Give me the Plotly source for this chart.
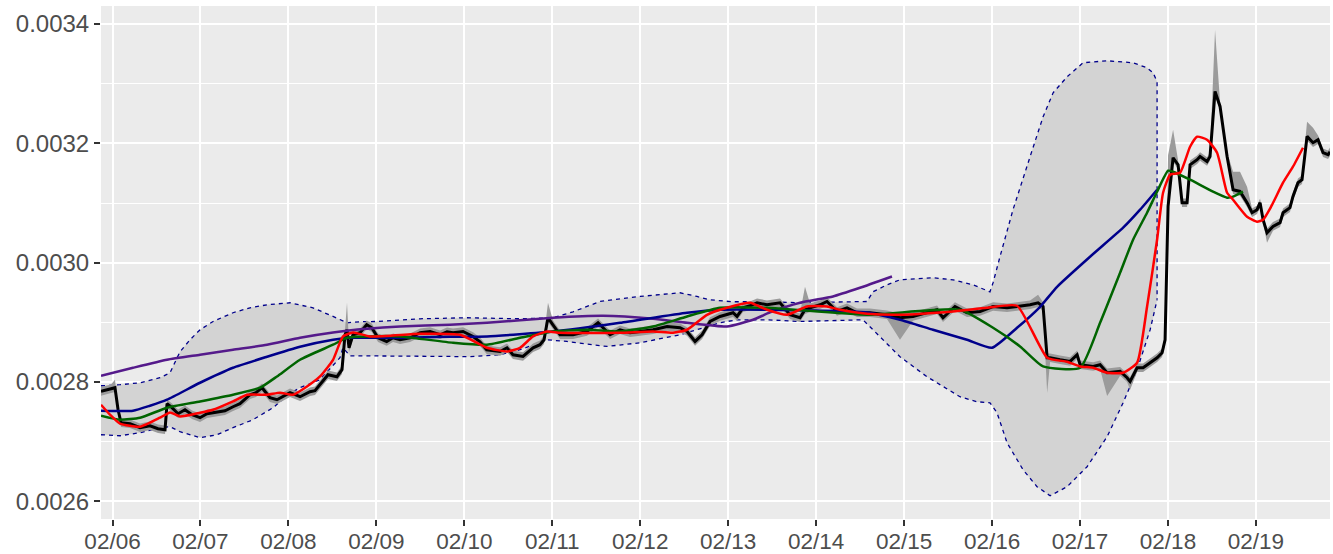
import pandas as pd
import plotly.graph_objects as go

BASE = pd.Timestamp("2024-02-01")

def to_time(days):
    return [BASE + pd.Timedelta(days=d - 1) for d in days]

# ---- price series (black line), day-of-February with fraction ----
price_days = [5.869, 5.926, 5.983, 6.028, 6.063, 6.097, 6.199, 6.313, 6.426, 6.517,
              6.597, 6.620, 6.676, 6.745, 6.824, 6.904, 6.995, 7.074, 7.165, 7.279,
              7.370, 7.449, 7.563, 7.631, 7.700, 7.790, 7.870, 7.950, 8.018, 8.132,
              8.245, 8.302, 8.359, 8.450, 8.552, 8.609, 8.643, 8.666, 8.689, 8.734,
              8.814, 8.890, 8.947, 9.019, 9.117, 9.189, 9.269, 9.383, 9.497, 9.610,
              9.724, 9.803, 9.872, 9.985, 10.099, 10.178, 10.254, 10.406, 10.485, 10.553,
              10.667, 10.781, 10.860, 10.906, 10.951, 11.008, 11.088, 11.236, 11.395, 11.520,
              11.600, 11.657, 11.770, 11.884, 11.998, 12.146, 12.305, 12.453, 12.532, 12.623,
              12.703, 12.794, 12.907, 13.055, 13.100, 13.169, 13.248, 13.328, 13.441, 13.589,
              13.703, 13.816, 13.873, 13.930, 14.044, 14.123, 14.237, 14.351, 14.464, 14.612,
              14.805, 14.953, 15.101, 15.260, 15.374, 15.442, 15.578, 15.715, 15.863, 16.011,
              16.170, 16.284, 16.432, 16.523, 16.580, 16.626, 16.660, 16.773, 16.887, 16.967,
              17.001, 17.149, 17.228, 17.308, 17.456, 17.535, 17.569, 17.649, 17.717, 17.797,
              17.876, 17.933, 17.967, 18.001, 18.058, 18.115, 18.160, 18.217, 18.251, 18.331,
              18.365, 18.444, 18.478, 18.535, 18.592, 18.672, 18.740, 18.819, 18.899, 18.956,
              19.013, 19.047, 19.081, 19.126, 19.194, 19.274, 19.308, 19.387, 19.421, 19.478,
              19.524, 19.581, 19.649, 19.706, 19.763, 19.820, 19.842]
price_vals = [0.0027843, 0.0027871, 0.0027888, 0.0027905, 0.0027536, 0.0027318, 0.0027302, 0.0027235, 0.0027268, 0.0027218,
              0.0027201, 0.0027637, 0.0027570, 0.0027469, 0.0027536, 0.0027452, 0.0027402, 0.0027469, 0.0027486, 0.0027519,
              0.0027586, 0.0027637, 0.0027787, 0.0027821, 0.0027905, 0.0027737, 0.0027704, 0.0027771, 0.0027821, 0.0027754,
              0.0027838, 0.0027854, 0.0027955, 0.0028122, 0.0028089, 0.0028206, 0.0028792, 0.0028876, 0.0028574, 0.0028792,
              0.0028826, 0.0028960, 0.0028909, 0.0028742, 0.0028680, 0.0028742, 0.0028708, 0.0028742, 0.0028826, 0.0028847,
              0.0028792, 0.0028842, 0.0028826, 0.0028847, 0.0028764, 0.0028675, 0.0028541, 0.0028512, 0.0028574, 0.0028457,
              0.0028429, 0.0028574, 0.0028625, 0.0028708, 0.0029077, 0.0028960, 0.0028792, 0.0028792, 0.0028847, 0.0028993,
              0.0028876, 0.0028792, 0.0028876, 0.0028826, 0.0028847, 0.0028876, 0.0028931, 0.0028909, 0.0028847, 0.0028680,
              0.0028792, 0.0029015, 0.0029099, 0.0029161, 0.0029099, 0.0029244, 0.0029278, 0.0029328, 0.0029295, 0.0029328,
              0.0029127, 0.0029077, 0.0029211, 0.0029244, 0.0029295, 0.0029350, 0.0029182, 0.0029244, 0.0029161, 0.0029161,
              0.0029127, 0.0029077, 0.0029099, 0.0029161, 0.0029211, 0.0029077, 0.0029266, 0.0029161, 0.0029182, 0.0029266,
              0.0029244, 0.0029266, 0.0029295, 0.0029328, 0.0029266, 0.0028407, 0.0028407, 0.0028373, 0.0028345, 0.0028457,
              0.0028290, 0.0028261, 0.0028290, 0.0028156, 0.0028178, 0.0028072, 0.0028010, 0.0028239, 0.0028239, 0.0028323,
              0.0028407, 0.0028491, 0.0028708, 0.0030943, 0.0031758, 0.0031641, 0.0031005, 0.0031005, 0.0031641, 0.0031725,
              0.0031780, 0.0031696, 0.0031780, 0.0032869, 0.0032618, 0.0031780, 0.0031223, 0.0031194, 0.0031005, 0.0030837,
              0.0030888, 0.0031005, 0.0030720, 0.0030502, 0.0030608, 0.0030670, 0.0030837, 0.0030921, 0.0031110, 0.0031340,
              0.0031390, 0.0032116, 0.0032010, 0.0032060, 0.0031843, 0.0031809, 0.0031859]

# ribbon around price: default half width plus read-off spikes
ribbon_half = 0.0000072
spike_hi_days = [6.028, 8.666, 10.951, 13.873, 16.523, 18.001, 18.058, 18.535, 18.740, 18.819, 18.899, 19.581, 19.649]
spike_hi_vals = [0.0028039, 0.0029328, 0.0029328, 0.0029596, 0.0029462, 0.0031800, 0.0032228, 0.0033900, 0.0031524,
                 0.0031524, 0.0031273, 0.0032362, 0.0032261]
spike_lo_days = [14.953, 16.626, 17.308, 17.569, 19.126]
spike_lo_vals = [0.0028708, 0.0027816, 0.0027766, 0.0027871, 0.0030335]

# ---- band (light grey area with dashed navy edges) ----
band_up_days = [5.869, 6.085, 6.313, 6.540, 6.654, 6.767, 6.881, 6.995, 7.143, 7.370,
                7.563, 7.757, 8.018, 8.279, 8.507, 8.666, 8.814, 9.007, 9.497, 10.031,
                10.633, 11.008, 11.236, 11.542, 11.997, 12.452, 12.645, 12.793, 13.055, 13.441,
                13.816, 14.271, 14.578, 14.646, 14.805, 14.953, 15.328, 15.555, 15.783, 15.976,
                16.011, 16.090, 16.238, 16.432, 16.580, 16.694, 16.853, 17.035, 17.308, 17.603,
                17.762, 17.831, 17.876, 17.876]
band_up_vals = [0.0027938, 0.0027955, 0.0027988, 0.0028072, 0.0028156, 0.0028507, 0.0028708, 0.0028876, 0.0029015, 0.0029161,
                0.0029244, 0.0029295, 0.0029328, 0.0029244, 0.0029099, 0.0028993, 0.0029010, 0.0029015, 0.0029060, 0.0029077,
                0.0029060, 0.0029077, 0.0029177, 0.0029350, 0.0029434, 0.0029496, 0.0029434, 0.0029378, 0.0029345, 0.0029345,
                0.0029328, 0.0029345, 0.0029350, 0.0029512, 0.0029629, 0.0029713, 0.0029747, 0.0029713, 0.0029629, 0.0029512,
                0.0029663, 0.0030100, 0.0030888, 0.0031775, 0.0032445, 0.0032847, 0.0033115, 0.0033350, 0.0033383, 0.0033350,
                0.0033266, 0.0033182, 0.0033032, 0.0029378]
band_lo_days = [5.869, 6.085, 6.313, 6.540, 6.654, 6.767, 6.995, 7.188, 7.370, 7.597,
                7.825, 7.995, 8.132, 8.359, 8.586, 8.620, 8.700, 9.121, 9.803, 10.065,
                10.406, 10.633, 10.940, 11.167, 11.622, 11.997, 12.452, 12.907, 13.100, 13.441,
                13.816, 14.532, 14.646, 14.953, 15.260, 15.635, 15.828, 15.976, 16.056, 16.170,
                16.352, 16.511, 16.660, 16.853, 17.080, 17.308, 17.490, 17.649, 17.797, 17.853,
                17.876]
band_lo_vals = [0.0027117, 0.0027100, 0.0027151, 0.0027235, 0.0027251, 0.0027168, 0.0027067, 0.0027117, 0.0027235, 0.0027369,
                0.0027570, 0.0027787, 0.0027905, 0.0028039, 0.0028407, 0.0028574, 0.0028440, 0.0028440, 0.0028429, 0.0028424,
                0.0028457, 0.0028541, 0.0028708, 0.0028680, 0.0028596, 0.0028658, 0.0028792, 0.0028993, 0.0029043, 0.0029043,
                0.0029015, 0.0029043, 0.0028876, 0.0028424, 0.0028089, 0.0027754, 0.0027670, 0.0027653, 0.0027486, 0.0026983,
                0.0026531, 0.0026246, 0.0026095, 0.0026246, 0.0026581, 0.0027084, 0.0027653, 0.0028206, 0.0028876, 0.0029211,
                0.0029378]

# ---- navy line ----
navy_days = [5.869, 6.233, 6.426, 6.620, 6.995, 7.370, 7.757, 8.132, 8.507, 8.700,
             9.269, 9.837, 10.258, 11.008, 11.770, 12.532, 12.907, 13.441, 14.578, 14.953,
             15.328, 15.715, 15.999, 16.284, 16.546, 16.739, 17.114, 17.490, 17.683, 17.876]
navy_vals = [0.0027519, 0.0027519, 0.0027603, 0.0027704, 0.0027988, 0.0028239, 0.0028424, 0.0028591, 0.0028708, 0.0028742,
             0.0028742, 0.0028759, 0.0028764, 0.0028847, 0.0028993, 0.0029161, 0.0029211, 0.0029211, 0.0029166, 0.0029043,
             0.0028876, 0.0028708, 0.0028574, 0.0028909, 0.0029261, 0.0029596, 0.0030100, 0.0030586, 0.0030888, 0.0031223]

# ---- green line ----
green_days = [5.869, 6.085, 6.313, 6.620, 6.995, 7.370, 7.677, 7.870, 8.132, 8.507,
              8.666, 8.893, 9.269, 9.871, 10.258, 10.633, 11.008, 11.395, 11.770, 12.146,
              12.532, 12.907, 13.441, 14.578, 15.635, 16.011, 16.318, 16.580, 17.001, 17.228,
              17.456, 17.603, 17.762, 17.876, 18.001, 18.058, 18.251, 18.512, 18.672, 18.740,
              18.853]
green_vals = [0.0027436, 0.0027369, 0.0027402, 0.0027570, 0.0027675, 0.0027787, 0.0027905, 0.0028094, 0.0028373, 0.0028625,
              0.0028742, 0.0028764, 0.0028764, 0.0028658, 0.0028625, 0.0028742, 0.0028847, 0.0028876, 0.0028847, 0.0028931,
              0.0029099, 0.0029244, 0.0029244, 0.0029127, 0.0029211, 0.0028909, 0.0028596, 0.0028261, 0.0028239, 0.0028993,
              0.0029833, 0.0030385, 0.0030837, 0.0031189, 0.0031541, 0.0031524, 0.0031390, 0.0031189, 0.0031089, 0.0031106,
              0.0031189]

# ---- red line ----
red_days = [5.869, 5.972, 6.085, 6.313, 6.540, 6.654, 6.767, 6.995, 7.143, 7.370,
            7.529, 7.757, 7.904, 8.052, 8.211, 8.359, 8.507, 8.620, 8.734, 8.927,
            9.497, 9.951, 10.258, 10.485, 10.633, 10.781, 10.940, 11.088, 11.770, 12.146,
            12.373, 12.532, 12.759, 12.986, 13.248, 13.441, 13.668, 13.896, 14.123, 14.271,
            14.578, 14.953, 15.555, 15.942, 16.284, 16.626, 16.853, 17.001, 17.149, 17.308,
            17.490, 17.649, 17.762, 17.876, 17.944, 18.024, 18.137, 18.251, 18.331, 18.444,
            18.558, 18.672, 18.740, 18.899, 19.013, 19.081, 19.172, 19.308, 19.421, 19.535]
red_vals = [0.0027620, 0.0027452, 0.0027302, 0.0027251, 0.0027402, 0.0027491, 0.0027424, 0.0027486, 0.0027536, 0.0027675,
            0.0027787, 0.0027787, 0.0027821, 0.0027787, 0.0027926, 0.0028094, 0.0028373, 0.0028764, 0.0028831, 0.0028764,
            0.0028809, 0.0028792, 0.0028574, 0.0028512, 0.0028574, 0.0028764, 0.0028847, 0.0028826, 0.0028826, 0.0028847,
            0.0028826, 0.0028876, 0.0029127, 0.0029244, 0.0029328, 0.0029211, 0.0029127, 0.0029266, 0.0029266, 0.0029211,
            0.0029144, 0.0029127, 0.0029182, 0.0029244, 0.0029278, 0.0028407, 0.0028340, 0.0028261, 0.0028239, 0.0028156,
            0.0028156, 0.0028323, 0.0029261, 0.0030385, 0.0031172, 0.0031474, 0.0031507, 0.0031943, 0.0032111, 0.0032060,
            0.0031842, 0.0031172, 0.0031055, 0.0030770, 0.0030687, 0.0030720, 0.0030938, 0.0031340, 0.0031608, 0.0031926]

# ---- purple line ----
purple_days = [5.869, 6.233, 6.620, 6.995, 7.370, 7.757, 8.132, 8.507, 8.893, 9.269,
               9.837, 10.258, 11.008, 11.577, 12.146, 12.532, 12.986, 13.282, 13.475, 13.816,
               14.191, 14.498, 14.862]
purple_vals = [0.0028106, 0.0028239, 0.0028373, 0.0028457, 0.0028541, 0.0028625, 0.0028742, 0.0028831, 0.0028893, 0.0028931,
               0.0028960, 0.0028993, 0.0029077, 0.0029110, 0.0029060, 0.0028993, 0.0028931, 0.0029043, 0.0029166, 0.0029328,
               0.0029434, 0.0029579, 0.0029768]

# ---- axes ----
x_start_day, x_end_day = 5.869, 19.842
y_min, y_max = 0.0025705, 0.0034301
y_ticks = [0.0026, 0.0028, 0.0030, 0.0032, 0.0034]
y_ticktext = ["0.0026", "0.0028", "0.0030", "0.0032", "0.0034"]
y_minor = [0.0027, 0.0029, 0.0031, 0.0033]
x_tick_days = list(range(6, 20))
x_ticktext = ["02/%02d" % d for d in x_tick_days]

# build ribbon bounds
hi_map = dict(zip(spike_hi_days, spike_hi_vals))
lo_map = dict(zip(spike_lo_days, spike_lo_vals))
ribbon_hi = [hi_map.get(d, v + ribbon_half) for d, v in zip(price_days, price_vals)]
ribbon_lo = [lo_map.get(d, v - ribbon_half) for d, v in zip(price_days, price_vals)]

fig = go.Figure()

# band polygon
fig.add_trace(go.Scatter(
    x=to_time(band_up_days) + to_time(band_lo_days[::-1]),
    y=band_up_vals + band_lo_vals[::-1],
    fill="toself", fillcolor="#D3D3D3", line=dict(width=0), mode="lines",
    hoverinfo="skip", showlegend=False))
for dd, vv in ((band_up_days, band_up_vals), (band_lo_days, band_lo_vals)):
    fig.add_trace(go.Scatter(x=to_time(dd), y=vv, mode="lines",
                             line=dict(color="#00008B", width=1.3, dash="4px,4px"),
                             showlegend=False, hoverinfo="skip"))

# price ribbon
fig.add_trace(go.Scatter(x=to_time(price_days), y=ribbon_lo, mode="lines",
                         line=dict(width=0), showlegend=False, hoverinfo="skip"))
fig.add_trace(go.Scatter(x=to_time(price_days), y=ribbon_hi, mode="lines",
                         line=dict(width=0), fill="tonexty", fillcolor="#9B9B9B",
                         showlegend=False, hoverinfo="skip"))
# price line
fig.add_trace(go.Scatter(x=to_time(price_days), y=price_vals, mode="lines",
                         line=dict(color="black", width=3), showlegend=False))

for dd, vv, col in ((purple_days, purple_vals, "#551A8B"),
                    (navy_days, navy_vals, "#00008B"),
                    (green_days, green_vals, "#006400"),
                    (red_days, red_vals, "#FF0000")):
    fig.add_trace(go.Scatter(x=to_time(dd), y=vv, mode="lines",
                             line=dict(color=col, width=2.5, shape="spline", smoothing=0.5),
                             showlegend=False))

xfont = dict(family="Liberation Sans, Arial, sans-serif", size=22.5, color="#4D4D4D")
yfont = dict(family="Liberation Sans, Arial, sans-serif", size=24, color="#4D4D4D")
fig.update_layout(
    width=1333, height=554,
    margin=dict(l=101, r=3, t=6, b=35),
    paper_bgcolor="white", plot_bgcolor="#EBEBEB",
    font=xfont, showlegend=False,
    xaxis=dict(
        range=to_time([x_start_day, x_end_day]),
        tickvals=to_time(x_tick_days), ticktext=x_ticktext,
        showgrid=True, gridcolor="white", gridwidth=2.2,
        ticks="outside", ticklen=6, tickwidth=2, tickcolor="#333333",
        showline=False, zeroline=False, tickfont=xfont, automargin=False,
        ticklabelstandoff=-4,
    ),
    yaxis=dict(
        range=[y_min, y_max],
        tickvals=y_ticks, ticktext=y_ticktext,
        showgrid=True, gridcolor="white", gridwidth=2.2,
        ticks="outside", ticklen=6, tickwidth=2, tickcolor="#333333",
        showline=False, zeroline=False, tickfont=yfont, automargin=False,
        minor=dict(tickvals=y_minor, showgrid=True, gridcolor="white", gridwidth=1.1, ticks=""),
    ),
)

fig.write_html("out.html", config={"displayModeBar": False},
               post_script="document.body.style.margin='0';document.body.style.overflow='hidden';")
